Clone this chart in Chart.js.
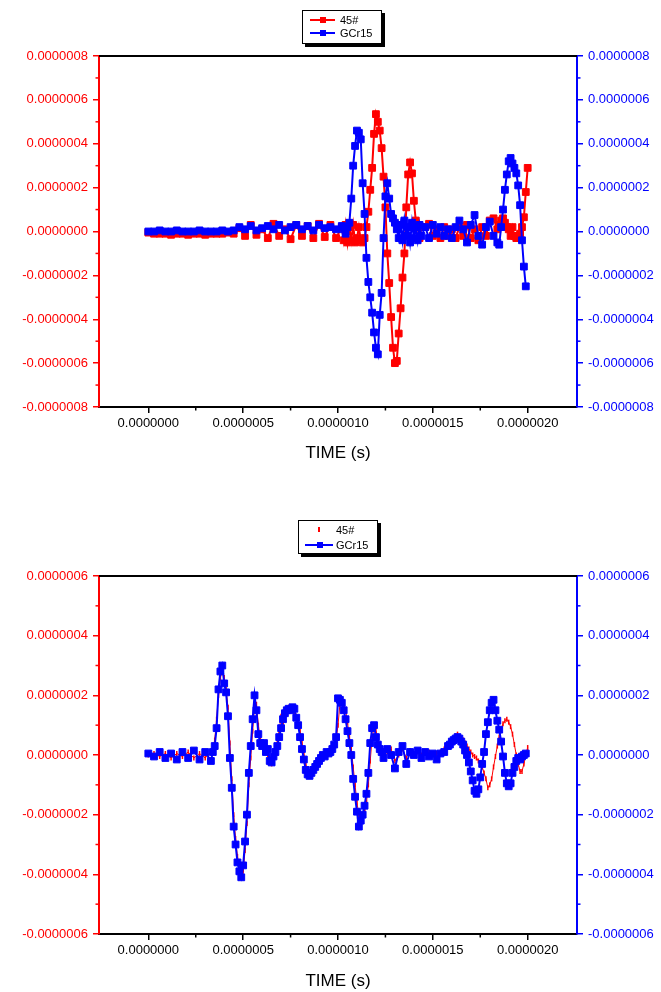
<!DOCTYPE html>
<html>
<head>
<meta charset="utf-8">
<script src="https://cdn.jsdelivr.net/npm/chart.js"></script>
<style>
  body { margin: 0; background: #fff; width: 661px; height: 992px; position: relative; overflow: hidden;
         font-family: "Liberation Sans", Arial, sans-serif; }
  canvas { position: absolute; left: 0; }
  .legend { position: absolute; background: #fff; border: 1px solid #000; box-shadow: 3px 3px 0 #000;
            font-size: 11px; color: #000; }
  .row { position: absolute; left: 0; right: 0; height: 12px; line-height: 12px; }
  .ln { position: absolute; height: 2px; top: 5px; }
  .sq { position: absolute; width: 6px; height: 6px; top: 3px; }
  .tx { position: absolute; left: 37px; top: 0; }
</style>
</head>
<body>
<canvas id="topChart" width="661" height="496" style="top:0"></canvas>
<canvas id="bottomChart" width="661" height="496" style="top:496px"></canvas>

<div class="legend" style="left:302px;top:10px;width:78px;height:32px">
  <div class="row" style="top:3px"><span class="ln" style="left:7px;width:25px;background:#f00"></span><span class="sq" style="left:17px;background:#f00"></span><span class="tx">45#</span></div>
  <div class="row" style="top:16px"><span class="ln" style="left:7px;width:25px;background:#00f"></span><span class="sq" style="left:17px;background:#00f"></span><span class="tx">GCr15</span></div>
</div>
<div class="legend" style="left:298px;top:520px;width:78px;height:32px">
  <div class="row" style="top:3px"><span class="ln" style="left:19px;width:2px;height:5px;top:3px;background:#f00"></span><span class="tx">45#</span></div>
  <div class="row" style="top:18px"><span class="ln" style="left:6px;width:28px;background:#00f"></span><span class="sq" style="left:18px;background:#00f"></span><span class="tx">GCr15</span></div>
</div>

<script>
// all values in units of 1e-7 (time in 1e-7 s, signal in 1e-7)
const RED = '#ff0000';
const BLUE = '#0000ff';

const xMajor = [0, 5, 10, 15, 20];
const xMinor = [2.5, 7.5, 12.5, 17.5];
const yMinorTop = [-7, -5, -3, -1, 1, 3, 5, 7];
const yMinorBottom = [-5, -3, -1, 1, 3, 5];

// ---- upper chart ----
const timeTop = [
  0, 0.3, 0.6, 0.9, 1.2, 1.5, 1.8, 2.1, 2.4, 2.7, 3, 3.3, 3.6, 3.9, 4.2, 4.5, 4.8, 5.1, 5.4, 5.7,
  6, 6.3, 6.6, 6.9, 7.2, 7.5, 7.8, 8.1, 8.4, 8.7, 9, 9.3, 9.6, 9.9, 10.2,
  10.3, 10.4, 10.5, 10.6, 10.7, 10.8, 10.9, 11, 11.1, 11.2, 11.3, 11.4, 11.5, 11.6, 11.7, 11.8, 11.9, 12, 12.1, 12.2,
  12.3, 12.4, 12.5, 12.6, 12.7, 12.8, 12.9, 13, 13.1, 13.2, 13.3, 13.4, 13.5, 13.6, 13.7, 13.8, 13.9, 14, 14.1, 14.2, 14.3, 14.4,
  14.6, 14.8, 15, 15.2, 15.4, 15.6, 15.8, 16, 16.2, 16.4, 16.6, 16.8, 17, 17.2, 17.4, 17.6, 17.8, 18, 18.2, 18.4,
  18.5, 18.6, 18.7, 18.8, 18.9, 19, 19.1, 19.2, 19.3, 19.4, 19.5, 19.6, 19.7, 19.8, 19.9, 20
];
const red45Top = [
  -0.05, -0.1, -0.1, -0.1, -0.15, -0.1, -0.1, -0.15, -0.1, -0.1, -0.15, -0.1, -0.1, -0.1, -0.05, -0.1, 0.15, -0.2, 0.3, -0.15,
  0.1, -0.3, 0.35, -0.2, 0.1, -0.35, 0.3, -0.2, 0.25, -0.3, 0.35, -0.25, 0.3, -0.3, 0.2,
  -0.4, 0.3, -0.5, 0.2, -0.4, 0.3, -0.5, -0.3, 0.2, -0.4, -0.5, -0.3, 0.2, 0.9, 1.9, 2.9, 4.45, 5.35, 5.0, 4.6,
  3.8, 2.5, 1.1, -1.0, -2.35, -3.9, -5.3, -6.0, -5.9, -4.65, -3.5, -2.1, -1.0, 1.1, 2.6, 3.15, 2.65, 1.4, 0.5, 0.2, -0.3, 0.2,
  0.2, 0.35, -0.2, 0.1, -0.3, 0.2, -0.2, 0.1, -0.3, 0.2, -0.2, 0.3, -0.3, 0.1, -0.4, 0.2, -0.2, 0.5, 0.6, 0.1,
  0.3, 0.5, 0.6, 0.4, 0.2, 0.1, -0.2, 0.2, -0.2, -0.3, -0.3, -0.1, 0.2, 0.65, 1.8, 2.9
];
const gcr15Top = [
  0, 0, 0.05, 0, 0, 0.05, 0, 0, 0, 0.05, 0, 0, 0, 0.05, 0, 0.05, 0.2, 0.1, 0.25, 0.05,
  0.15, 0.25, 0.1, 0.3, 0.05, 0.2, 0.3, 0.1, 0.25, 0.05, 0.3, 0.15, 0.2, 0.1, 0.25,
  0.1, -0.1, 0.2, 0.4, 1.5, 3.0, 3.9, 4.6, 4.5, 4.2, 2.2, 0.8, -1.2, -2.3, -3.0, -3.7, -4.6, -5.3, -5.6, -3.8,
  -2.8, -0.3, 1.6, 2.2, 1.5, 0.8, 0.6, 0.4, 0.1, -0.3, 0.3, -0.4, 0.5, -0.2, 0.2, -0.5, 0.4, -0.3, 0.2, -0.4, 0.3, -0.2,
  0.2, -0.3, 0.3, -0.1, 0.2, -0.2, 0.1, -0.3, 0.2, 0.5, 0.1, -0.5, 0.3, 0.75, -0.2, -0.6, 0.2, 0.45, -0.2, -0.5,
  -0.6, 0.2, 1.0, 1.9, 2.6, 3.2, 3.35, 3.1, 2.9, 2.65, 2.1, 1.2, -0.4, -1.6, -2.5, null
];

// ---- lower chart ----
const timeBottom = [
  0, 0.3, 0.6, 0.9, 1.2, 1.5, 1.8, 2.1, 2.4, 2.7, 3, 3.3,
  3.4, 3.5, 3.6, 3.7, 3.8, 3.9, 4, 4.1, 4.2, 4.3, 4.4, 4.5, 4.6, 4.7, 4.8, 4.9, 5, 5.1, 5.2, 5.3,
  5.4, 5.5, 5.6, 5.7, 5.8, 5.9, 6, 6.1, 6.2, 6.3, 6.4, 6.5, 6.6, 6.7, 6.8, 6.9, 7, 7.1, 7.2, 7.3,
  7.4, 7.5, 7.6, 7.7, 7.8, 7.9, 8, 8.1, 8.2, 8.3, 8.4, 8.5, 8.6, 8.7, 8.8, 8.9, 9, 9.1, 9.2, 9.3,
  9.4, 9.5, 9.6, 9.7, 9.8, 9.9, 10, 10.1, 10.2, 10.3, 10.4, 10.5, 10.6, 10.7, 10.8, 10.9, 11, 11.1, 11.2, 11.3,
  11.4, 11.5, 11.6, 11.7, 11.8, 11.9, 12, 12.1, 12.2, 12.3, 12.4,
  12.6, 12.8, 13, 13.2, 13.4, 13.6, 13.8, 14, 14.2, 14.4, 14.6, 14.8, 15, 15.2, 15.4, 15.6, 15.8,
  15.9, 16, 16.1, 16.2, 16.3, 16.4, 16.5, 16.6, 16.7, 16.8, 16.9, 17, 17.1, 17.2, 17.3, 17.4, 17.5, 17.6, 17.7, 17.8,
  17.9, 18, 18.1, 18.2, 18.3, 18.4, 18.5, 18.6, 18.7, 18.8, 18.9, 19, 19.1, 19.2, 19.3, 19.4, 19.5, 19.6, 19.7, 19.8,
  19.9, 20
];
const red45Bottom = [
  0, 0.05, -0.05, 0.05, -0.1, 0.05, -0.05, 0.1, -0.1, 0.05, -0.1, 0.1,
  0.2, 0.5, 1.2, 2.0, 2.6, 2.8, 2.6, 2.2, 1.6, 0.4, -0.8, -2.0, -2.8, -3.4, -3.8, -4.0, -3.9, -3.2, -2.3, -1.0,
  -0.1, 0.8, 1.6, 1.7, 1.0, 0.6, 0.4, 0.2, 0.3, 0.0, -0.1, -0.3, 0.0, 0.2, 0.4, 0.8, 1.3, 1.0, 1.5, 1.4,
  1.6, 1.6, 1.5, 1.4, 1.3, 1.1, 0.8, 0.4, 0.0, -0.3, -0.55, -0.7, -0.65, -0.55, -0.45, -0.3, -0.15, 0.0, -0.1, 0.1,
  0.0, 0.15, 0.05, 0.25, 0.3, 0.5, 1.0, 1.7, 1.8, 1.7, 1.5, 1.1, 0.6, 0.2, -0.4, -1.0, -1.6, -2.0, -2.3, -2.2,
  -1.9, -1.6, -1.0, -0.2, 0.6, 0.9, 0.8, 0.6, 0.3, 0.2, 0.0,
  0.1, 0.2, -0.2, 0.0, 0.2, -0.1, 0.15, 0.0, 0.1, 0.0, 0.05, 0.1, 0.0, 0.05, 0.1, 0.2, 0.35,
  0.4, 0.45, 0.55, 0.65, 0.7, 0.6, 0.55, 0.5, 0.4, 0.3, 0.2, 0.1, 0.0, -0.05, -0.1, -0.2, -0.25, -0.4, -0.6, -0.8,
  -1.1, -1.0, -0.8, -0.4, -0.05, 0.3, 0.6, 0.85, 1.05, 1.15, 1.2, 1.1, 0.95, 0.7, 0.35, 0.0, -0.3, -0.55, -0.55, -0.3,
  0.0, 0.25
];
const gcr15Bottom = [
  0.05, -0.05, 0.1, -0.1, 0.05, -0.15, 0.1, -0.1, 0.15, -0.15, 0.1, -0.2,
  0.1, 0.3, 0.9, 2.2, 2.8, 3.0, 2.4, 2.1, 1.3, -0.1, -1.1, -2.4, -3.0, -3.6, -3.9, -4.1, -3.7, -2.9, -2.0, -0.6,
  0.3, 1.2, 2.0, 1.5, 0.7, 0.4, 0.3, 0.4, 0.1, 0.2, -0.2, -0.25, -0.05, 0.1, 0.3, 0.6, 0.9, 1.2, 1.4, 1.5,
  1.55, 1.5, 1.6, 1.55, 1.25, 1.0, 0.6, 0.2, -0.15, -0.5, -0.65, -0.7, -0.6, -0.5, -0.4, -0.3, -0.2, -0.1, 0.0, -0.05,
  0.1, 0.05, 0.1, 0.2, 0.35, 0.6, 1.9, 1.85, 1.75, 1.5, 1.2, 0.8, 0.4, 0.0, -0.8, -1.4, -1.9, -2.4, -2.2, -2.0,
  -1.7, -1.3, -0.6, 0.4, 0.9, 1.0, 0.6, 0.35, 0.2, 0.1, -0.1,
  0.2, 0.0, -0.45, 0.1, 0.3, -0.3, 0.1, 0.0, 0.15, -0.1, 0.1, -0.05, 0.05, -0.15, 0.05, 0.1, 0.3,
  0.35, 0.45, 0.5, 0.55, 0.6, 0.55, 0.45, 0.35, 0.15, 0.0, -0.25, -0.55, -0.85, -1.2, -1.3, -1.15, -0.75, -0.3, 0.1, 0.7,
  1.1, 1.5, 1.75, 1.85, 1.5, 1.15, 0.85, 0.45, -0.05, -0.6, -0.95, -1.05, -0.95, -0.6, -0.4, -0.2, -0.1, -0.15, -0.05, 0.0,
  0.05, null
];

Chart.defaults.font.family = '"Liberation Sans", Arial, sans-serif';

const fmt = v => (v * 1e-7).toFixed(7);
const pts = (times, vals) => times.map((t, i) => ({x: t, y: vals[i]}));

// minor ticks + top frame line
const axisExtras = {
  id: 'axisExtras',
  afterDraw(chart, args, opts) {
    const {ctx, chartArea: a, scales} = chart;
    ctx.save();
    ctx.lineWidth = 2;
    ctx.strokeStyle = '#000';
    ctx.beginPath();
    ctx.moveTo(a.left, a.top);
    ctx.lineTo(a.right, a.top);
    ctx.stroke();
    ctx.lineWidth = 1.5;
    opts.minorX.forEach(v => {
      const x = scales.x.getPixelForValue(v);
      ctx.beginPath(); ctx.moveTo(x, a.bottom); ctx.lineTo(x, a.bottom + 3.5); ctx.stroke();
    });
    opts.minorY.forEach(v => {
      const y = scales.yL.getPixelForValue(v);
      ctx.strokeStyle = RED;
      ctx.beginPath(); ctx.moveTo(a.left, y); ctx.lineTo(a.left - 3.5, y); ctx.stroke();
      ctx.strokeStyle = BLUE;
      ctx.beginPath(); ctx.moveTo(a.right, y); ctx.lineTo(a.right + 3.5, y); ctx.stroke();
    });
    ctx.restore();
  }
};

function yAxis(pos, color, lim, width) {
  return {
    type: 'linear', position: pos, min: -lim, max: lim,
    ticks: {stepSize: 2, color: color, padding: 5, font: {size: 13}, callback: v => fmt(v)},
    grid: {drawOnChartArea: false, drawTicks: true, tickLength: 6, color: color, lineWidth: 1.5},
    border: {color: color, width: 2},
    afterFit: s => { s.width = width; }
  };
}

function makeChart(id, times, redVals, blueVals, cfg) {
  const redSet = {
    label: '45#', data: pts(times, redVals), yAxisID: 'yL', order: 2,
    borderColor: RED, backgroundColor: RED, pointBackgroundColor: RED, pointBorderColor: RED
  };
  Object.assign(redSet, cfg.redStyle);
  const blueSet = {
    label: 'GCr15', data: pts(times, blueVals), yAxisID: 'yR', order: 1,
    borderColor: BLUE, backgroundColor: BLUE, pointBackgroundColor: BLUE, pointBorderColor: BLUE,
    borderWidth: 2, pointStyle: 'rect', pointRadius: 4.8, pointBorderWidth: 1
  };
  return new Chart(document.getElementById(id), {
    type: 'line',
    data: {datasets: [redSet, blueSet]},
    plugins: [axisExtras],
    options: {
      responsive: false,
      animation: false,
      events: [],
      layout: {padding: {top: cfg.top, left: 0, right: 0, bottom: 0}},
      plugins: {
        legend: {display: false},
        tooltip: {enabled: false},
        axisExtras: {minorX: xMinor, minorY: cfg.minorY}
      },
      scales: {
        x: {
          type: 'linear', min: -2.6, max: 22.6,
          afterBuildTicks: s => { s.ticks = xMajor.map(v => ({value: v})); },
          ticks: {color: '#000', padding: 3, maxRotation: 0, font: {size: 13}, callback: v => fmt(v)},
          grid: {drawOnChartArea: false, drawTicks: true, tickLength: 6, color: '#000', lineWidth: 1.5},
          border: {color: '#000', width: 2},
          title: {display: true, text: 'TIME (s)', color: '#000', font: {size: 17},
                  padding: {top: 0, bottom: cfg.titlePad}},
          afterFit: s => { s.height = cfg.xHeight; }
        },
        yL: yAxis('left', RED, cfg.lim, 99),
        yR: yAxis('right', BLUE, cfg.lim, 84)
      }
    }
  });
}

makeChart('topChart', timeTop, red45Top, gcr15Top, {
  top: 56, xHeight: 89, titlePad: 32, lim: 8, minorY: yMinorTop,
  redStyle: {borderWidth: 2, pointStyle: 'rect', pointRadius: 4.8, pointBorderWidth: 1}
});

makeChart('bottomChart', timeBottom, red45Bottom, gcr15Bottom, {
  top: 80, xHeight: 58, titlePad: 0, lim: 6, minorY: yMinorBottom,
  redStyle: {borderWidth: 1, pointStyle: 'line', pointRotation: 90, pointRadius: 2.5, pointBorderWidth: 1.5}
});
</script>
</body>
</html>
